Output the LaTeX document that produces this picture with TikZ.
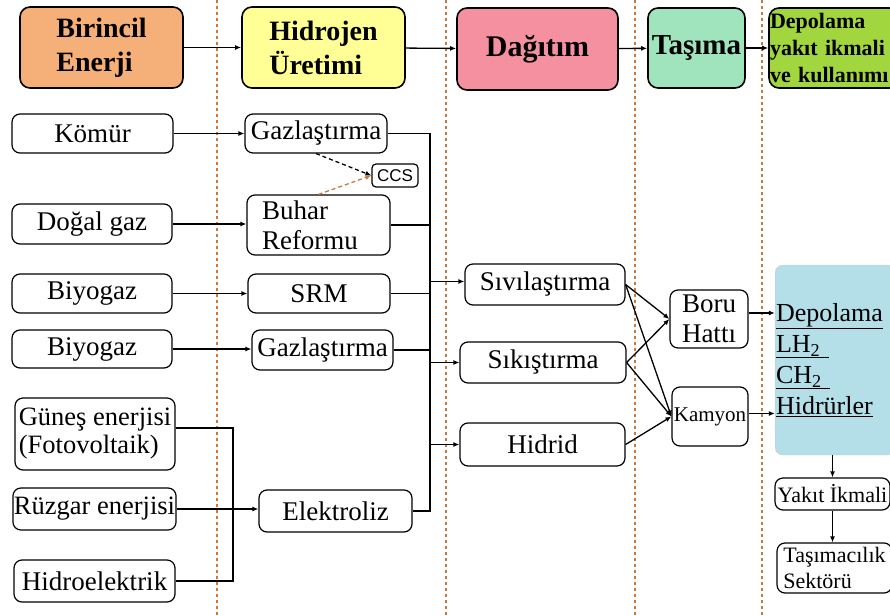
\documentclass[tikz,border=0pt]{standalone}
\usepackage{fontspec}
\setmainfont{Liberation Serif}
\setsansfont{Liberation Sans}
\usepackage{xcolor}
\definecolor{hdrorange}{RGB}{245, 176, 122}
\definecolor{hdryellow}{RGB}{255, 255, 150}
\definecolor{hdrpink}{RGB}{244, 144, 160}
\definecolor{hdrmint}{RGB}{160, 228, 190}
\definecolor{hdrlime}{RGB}{162, 214, 62}
\definecolor{storeblue}{RGB}{180, 222, 232}
\definecolor{sepbrown}{RGB}{200, 122, 62}
\usepackage{tikz}
\usetikzlibrary{
    arrows.meta,
    positioning,
    calc
}
\tikzset{
    hdr/.style={draw, line width=1.6pt, rounded corners=10pt, inner sep=1pt,
        font=\fontsize{28}{34}\selectfont\bfseries, align=left},
    box/.style={draw, line width=1.2pt, rounded corners=8pt, inner sep=1pt,
        font=\fontsize{27}{30}\selectfont},
    smallbox/.style={box, font=\fontsize{22}{26}\selectfont},
    link/.style={line width=1.3pt, -{Latex[length=6pt,width=5pt]}},
    wire/.style={line width=1.3pt},
    sepline/.style={sepbrown, line width=1.5pt, dash pattern=on 3pt off 3pt}
}

\begin{document}
\begin{tikzpicture}[x=1pt,y=-1pt]
    \useasboundingbox (0,0) rectangle (890,615);

    % Column separators
    \foreach \sx in {217,446,635,762} {
        \draw[sepline] (\sx,0) -- (\sx,615);
    }

    % Headers
    \node[hdr, fill=hdrorange, minimum width=163, minimum height=81] (src) at (101.5,47.5) {Birincil\\Enerji};
    \node[hdr, fill=hdryellow, minimum width=163, minimum height=81] (prod) at (323.5,47.5) {Hidrojen\\Üretimi};
    \node[hdr, fill=hdrpink, minimum width=161, minimum height=82, font=\fontsize{30}{32}\selectfont\bfseries] (dist) at (537.5,49) {Dağıtım};
    \node[hdr, fill=hdrmint, minimum width=97, minimum height=80, font=\fontsize{29}{31}\selectfont\bfseries] (trans) at (696.5,48) {Taşıma};
    \node[hdr, fill=hdrlime, text width=128, minimum height=80, font=\fontsize{22}{27}\selectfont\bfseries] (use) at (834,48) {Depolama\\yakıt ikmali\\ve kullanımı};

    \draw[link] (src) -- (prod);
    \draw[link] (prod) -- (dist);
    \draw[link] (dist) -- (trans);
    \draw[link] (trans) -- (use);

    % Primary sources
    \node[box, minimum width=161, minimum height=39] (komur) at (92.5,133.5) {Kömür};
    \node[box, minimum width=160, minimum height=40] (dogal) at (92,224) {Doğal gaz};
    \node[box, minimum width=160, minimum height=39] (biyo1) at (92,293.5) {Biyogaz};
    \node[box, minimum width=160, minimum height=38] (biyo2) at (92,349) {Biyogaz};
    \node[box, minimum width=160, minimum height=72, align=left, font=\fontsize{26.5}{28}\selectfont] (gunes) at (95,434) {Güneş enerjisi\\(Fotovoltaik)};
    \node[box, minimum width=161, minimum height=42, font=\fontsize{26.5}{28}\selectfont] (ruzgar) at (94.5,509) {Rüzgar enerjisi};
    \node[box, minimum width=161, minimum height=42] (hidro) at (94.5,581) {Hidroelektrik};

    % Production
    \node[box, minimum width=142, minimum height=39] (gaz1) at (316,133.5) {Gazlaştırma};
    \node[box, minimum width=46, minimum height=23, rounded corners=4pt, inner sep=0pt,
        font=\fontsize{17}{17}\selectfont\sffamily] (ccs) at (395,175.5) {CCS};
    \node[box, minimum height=60, text width=113, inner xsep=15pt, align=left] (buhar) at (318.5,225) {Buhar\\Reformu};
    \node[box, minimum width=142, minimum height=39] (srm) at (319,293.5) {SRM};
    \node[box, minimum width=141, minimum height=40] (gaz2) at (322.5,350) {Gazlaştırma};
    \node[box, minimum width=153, minimum height=42] (elek) at (335.5,511) {Elektroliz};

    \draw[link] (komur) -- (gaz1);
    \draw[link] (dogal.east) -- (dogal.east -| buhar.west);
    \draw[link] (biyo1) -- (srm);
    \draw[link] (biyo2.east) -- (biyo2.east -| gaz2.west);
    \draw[link, dash pattern=on 4pt off 3pt] (gaz1.south) -- (ccs.west);
    \draw[link, sepbrown, dash pattern=on 4pt off 3pt] (buhar.north) -- (ccs.west);

    % Renewables to electrolysis
    \coordinate (rjoin) at (233,0);
    \draw[wire] ($(gunes.east)+(0,-6)$) -| (hidro.east -| rjoin) -- (hidro.east);
    \draw[link] (ruzgar.east) -- (ruzgar.east -| elek.west);

    % Distribution
    \node[box, minimum width=160, minimum height=41] (sivi) at (545,284.5) {Sıvılaştırma};
    \node[box, minimum width=166, minimum height=41] (sikis) at (543,362.5) {Sıkıştırma};
    \node[box, minimum width=165, minimum height=43] (hidrid) at (542.5,444.5) {Hidrid};

    % Collector line
    \coordinate (bus) at (430,0);
    \draw[wire] (gaz1.east) -| (elek.east -| bus) -- (elek.east);
    \draw[wire] (buhar.east) -- (buhar.east -| bus);
    \draw[wire] (srm.east) -- (srm.east -| bus);
    \draw[wire] (gaz2.east) -- (gaz2.east -| bus);
    \draw[link] ($(sivi.west -| bus)+(0,-3)$) -- ($(sivi.west)+(0,-3)$);
    \draw[link] (sikis.west -| bus) -- (sikis.west);
    \draw[link] (hidrid.west -| bus) -- (hidrid.west);

    % Transport
    \node[box, minimum width=78, minimum height=58, align=left] (boru) at (709,319) {Boru\\Hattı};
    \node[box, minimum width=76, minimum height=59, inner sep=0pt, font=\fontsize{21}{24}\selectfont] (kamyon) at (710,416.5) {Kamyon};

    \draw[link] (sivi.east) -- (boru.west);
    \draw[link] (sivi.east) -- (kamyon.west);
    \draw[link] (sikis.east) -- (boru.west);
    \draw[link] (sikis.east) -- (kamyon.west);
    \draw[link] (hidrid.east) -- (kamyon.west);

    % Storage and use
    \node[draw=gray!40, fill=storeblue, rounded corners=8pt, inner sep=1pt, text width=118, minimum height=190,
        align=left, font=\fontsize{26}{31}\selectfont] (store) at (835,360)
        {\underline{Depolama}\\\underline{LH\textsubscript{2}\ }\\\underline{CH\textsubscript{2}\ }\\\underline{Hidrürler}};
    \node[smallbox, minimum width=115, minimum height=32] (yakit) at (832.5,494) {Yakıt İkmali};
    \node[smallbox, minimum width=115, minimum height=50, align=left] (tasima) at (834.5,568) {Taşımacılık\\Sektörü};

    \draw[link] ($(boru.east)+(0,-6)$) -- ($(boru.east -| store.west)+(0,-6)$);
    \draw[link] ($(kamyon.east)+(0,-3)$) -- ($(kamyon.east -| store.west)+(0,-3)$);
    \draw[link] (yakit.north |- store.south) -- (yakit.north);
    \draw[link] (yakit.south) -- (yakit.south |- tasima.north);
\end{tikzpicture}
\end{document}
